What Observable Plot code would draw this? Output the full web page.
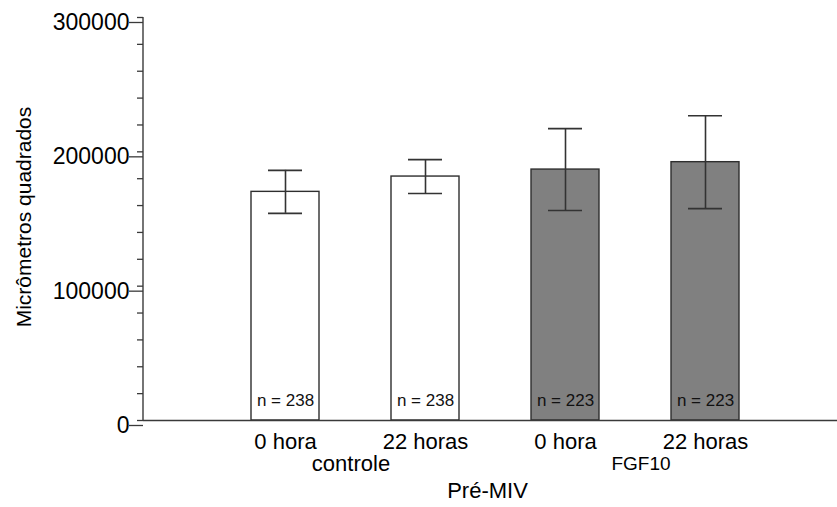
<!DOCTYPE html>
<html>
<head>
<meta charset="utf-8">
<script src="https://cdn.jsdelivr.net/npm/d3@7"></script>
<script src="https://cdn.jsdelivr.net/npm/@observablehq/plot@0.6"></script>
<style>
  html, body { margin: 0; padding: 0; background: #fff; }
  svg { display: block; }
</style>
</head>
<body>
<div id="chart"></div>
<script>
// ---- data ----
const groups = ["controle", "controle", "FGF10", "FGF10"];
const times = ["0 hora", "22 horas", "0 hora", "22 horas"];
const means = [170200, 181600, 186800, 192300];
const errors = [16000, 12600, 30500, 34600];
const nCounts = [238, 238, 223, 223];
const yTicks = [0, 100000, 200000, 300000];
const yLabel = "Micrômetros quadrados";
const xLabel = "Pré-MIV";

const data = times.map((t, i) => ({
  key: groups[i] + "|" + t,
  group: groups[i],
  time: t,
  mean: means[i],
  lo: means[i] - errors[i],
  hi: means[i] + errors[i],
  n: "n = " + nCounts[i]
}));

const W = 837, H = 507;
const mL = 143, mR = 0, mT = 17, mB = 87;
const font = "'Liberation Sans', Arial, sans-serif";
const axisColor = "#3a3a3a";

const chart = Plot.plot({
  width: W,
  height: H,
  marginLeft: mL,
  marginRight: mR,
  marginTop: mT,
  marginBottom: mB,
  style: { fontFamily: font, color: "#000", background: "#fff" },
  x: {
    type: "band",
    domain: data.map(d => d.key),
    range: [mL, W - mR],
    paddingInner: 0.511,
    paddingOuter: 0.7165,
    align: 0.5245
  },
  y: { domain: [0, 300000] },
  marks: [
    // minor ticks
    Plot.axisY(d3.range(0, 300001, 20000), {
      tickSize: 6, tickFormat: () => "", stroke: axisColor, strokeWidth: 1.3, label: null
    }),
    // major ticks + labels
    Plot.axisY(yTicks, {
      tickSize: 14, tickPadding: 0, fontSize: 23, dy: 5, stroke: axisColor, strokeWidth: 1.3,
      tickFormat: d => String(d), label: null, fill: "#000"
    }),
    Plot.axisX({
      tickSize: 0, tickPadding: 13, fontSize: 22, label: null, fill: "#000",
      tickFormat: k => k.split("|")[1]
    }),
    Plot.barY(data, {
      x: "key", y: "mean",
      fill: d => d.group === "FGF10" ? "#808080" : "#ffffff",
      stroke: "#2e2e2e", strokeWidth: 1.4
    }),
    Plot.ruleX(data, { x: "key", y1: "lo", y2: "hi", stroke: "#333", strokeWidth: 1.6 }),
    Plot.tickY(data, { x: "key", y: "hi", stroke: "#333", strokeWidth: 1.6, insetLeft: 17, insetRight: 17 }),
    Plot.tickY(data, { x: "key", y: "lo", stroke: "#333", strokeWidth: 1.6, insetLeft: 17, insetRight: 17 }),
    Plot.text(data, {
      x: "key", y: 0, text: "n", fontSize: 17, fill: "#111",
      lineAnchor: "middle", dy: -20
    }),
    Plot.ruleY([0], { stroke: axisColor, strokeWidth: 1.4 }),
    Plot.text([yLabel], {
      frameAnchor: "left", textAnchor: "middle", rotate: -90, dx: -119, dy: -2,
      fontSize: 21, fill: "#000", text: d => d
    }),
    Plot.text([xLabel], {
      frameAnchor: "bottom", dy: 77, dx: -3, fontSize: 22, fill: "#000", text: d => d
    })
  ]
});

// y axis line and group labels, placed via the chart's scales
const svg = d3.select(chart);
const ys = chart.scale("y");
svg.append("line")
  .attr("x1", mL).attr("x2", mL)
  .attr("y1", ys.apply(300000)).attr("y2", ys.apply(0))
  .attr("stroke", axisColor).attr("stroke-width", 1.4);

const xs = chart.scale("x");
const groupNames = Array.from(new Set(groups));
const groupStyle = { "controle": { size: 22, dx: -4 }, "FGF10": { size: 19, dx: 6 } };
groupNames.forEach(g => {
  const keys = data.filter(d => d.group === g).map(d => d.key);
  const cx = d3.mean(keys, k => xs.apply(k) + xs.bandwidth / 2);
  svg.append("text")
    .attr("x", cx + groupStyle[g].dx)
    .attr("y", ys.apply(0) + 43)
    .attr("dy", "0.35em")
    .attr("text-anchor", "middle")
    .attr("font-family", font)
    .attr("font-size", groupStyle[g].size)
    .attr("fill", "#000")
    .text(g);
});

document.getElementById("chart").appendChild(chart);
</script>
</body>
</html>
